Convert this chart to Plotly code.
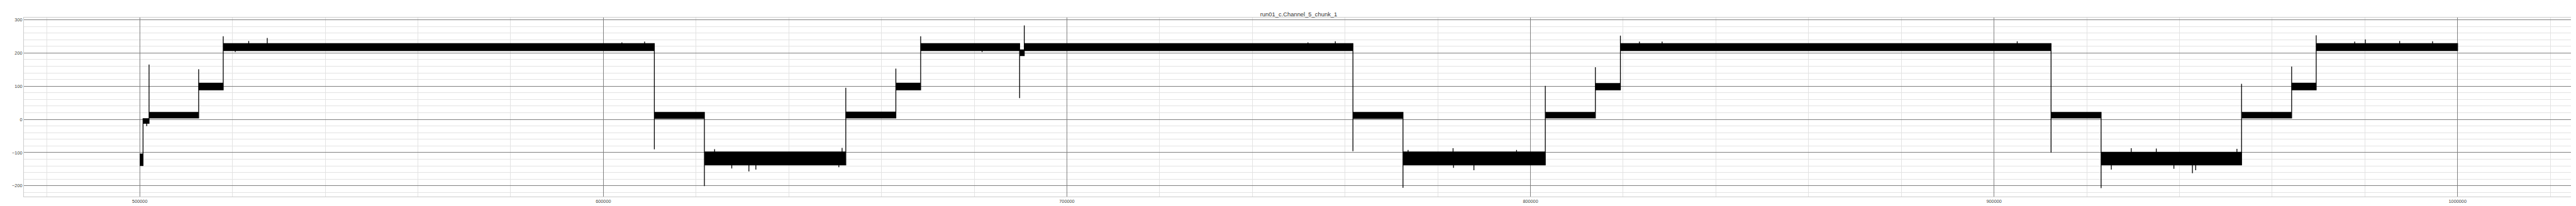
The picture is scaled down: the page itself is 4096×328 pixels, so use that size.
import plotly.graph_objects as go

# ---- data ----
step_start = [500000, 500700, 502000, 512700, 518000, 611000, 621800, 652300,
              663100, 668450, 689800, 690800, 761700, 772500, 803200, 814000,
              819400, 912300, 923100, 953400, 964200, 969500]
data_end = 1000000
band_top = [-104, 2, 21, 109, 228, 21, -98, 22, 109, 228, 209.5, 228, 21, -98,
            21, 108, 228, 21, -99, 21, 109, 228]
band_bottom = [-139, -12, 4, 89, 207, 3, -137, 4, 89, 207, 192, 207, 3, -137,
               4, 89, 207, 4, -137, 4, 89, 207]
edge_spike = [None, None, 165, 151, 250, -90, -201, 95, 153, 250, 64, 283,
              -96, -206, 101, 157, 252, -100, -207, 107, 159, 253]
bump_x = [501500, 520600, 523500, 527500, 604000, 608900, 624000, 627700,
          631400, 632900, 650800, 651500, 681700, 752000, 757900, 773600,
          783300, 783400, 787800, 797000, 823500, 828400, 905000, 925300,
          929600, 935000, 938800, 942800, 943500, 952400, 977800, 980100,
          987500, 994600]
bump_y = [-20, 203, 236, 245, 232, 234, -89.5, -148, -157, -151, -144, -86,
          203, 232, 235, -92, -87, -146, -153, -92, 234, 234, 235, -151,
          -87, -88, -149, -162, -153, -89, 234, 241, 236, 235]

title_text = "run01_c.Channel_5_chunk_1"

# ---- build the signal envelope from the values above ----
step_end = step_start[1:] + [data_end]
bumps = sorted(zip(bump_x, bump_y))
ux, uy, lx, ly = [], [], [], []
for i, (x0, x1, top, bot) in enumerate(zip(step_start, step_end, band_top, band_bottom)):
    sp = edge_spike[i]
    if sp is not None and sp > top:
        ux += [x0, x0]; uy += [sp, top]
    else:
        ux.append(x0); uy.append(top)
    if sp is not None and sp < bot:
        lx += [x0, x0]; ly += [sp, bot]
    else:
        lx.append(x0); ly.append(bot)
    for bx, by in bumps:
        if x0 < bx < x1:
            if by > top:
                ux += [bx, bx, bx]; uy += [top, by, top]
            elif by < bot:
                lx += [bx, bx, bx]; ly += [bot, by, bot]
    ux.append(x1); uy.append(top)
    lx.append(x1); ly.append(bot)

px = ux + lx[::-1]
py = uy + ly[::-1]

fig = go.Figure()
fig.add_trace(go.Scatter(
    x=px, y=py, mode="lines", fill="toself", fillcolor="black",
    line=dict(color="black", width=1.3), hoverinfo="skip", showlegend=False))

W, H = 4096, 328
font_fam = "Liberation Sans, Arial, sans-serif"
tick_font = dict(family=font_fam, size=7.3, color="#444444")

fig.update_layout(
    width=W, height=H,
    margin=dict(l=28, r=11, t=20, b=18.5, pad=0),
    paper_bgcolor="white", plot_bgcolor="white",
    showlegend=False,
    title=dict(text=title_text, x=0.5, xref="paper", xanchor="center",
               y=1 - 14.5 / H, yref="container", yanchor="middle",
               font=dict(family=font_fam, size=9.4, color="#333333")),
)
fig.update_xaxes(
    range=[475000, 1025000], tickmode="linear", tick0=0, dtick=100000,
    tickformat="d", showgrid=True, gridcolor="#808080", gridwidth=0.9,
    minor=dict(tickmode="linear", tick0=0, dtick=20000, showgrid=True,
               gridcolor="#e3e3e3", gridwidth=0.8),
    zeroline=False, showline=True, mirror=True, linecolor="#cccccc",
    linewidth=1, ticks="", tickfont=tick_font,
)
fig.update_yaxes(
    range=[-232.5, 306.5], tickmode="linear", tick0=0, dtick=100,
    showgrid=True, gridcolor="#808080", gridwidth=0.9,
    minor=dict(tickmode="linear", tick0=0, dtick=20, showgrid=True,
               gridcolor="#e3e3e3", gridwidth=0.8),
    zeroline=False, showline=True, mirror=True, linecolor="#cccccc",
    linewidth=1, ticks="", tickfont=tick_font,
)

fig.write_html("out.html")
